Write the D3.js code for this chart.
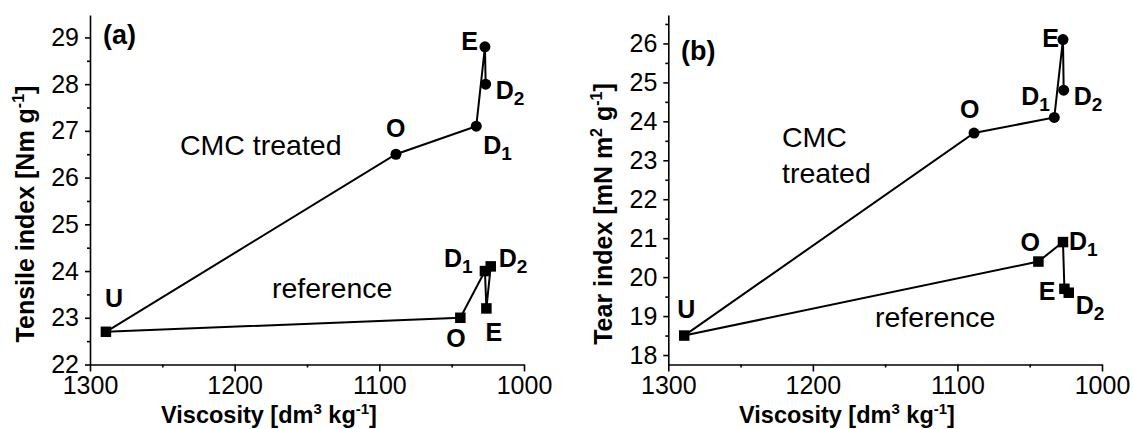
<!DOCTYPE html>
<html><head><meta charset="utf-8">
<script src="https://cdn.jsdelivr.net/npm/d3@7"></script>
<style>
html,body{margin:0;padding:0;background:#fff;}
svg text{font-family:"Liberation Sans",Arial,sans-serif;fill:#000;}
</style></head>
<body>
<svg id="chart" width="1133" height="429"></svg>
<script>
// ---- data ----
const samples = ["U", "O", "D1", "E", "D2"];
const viscosityCMC = [1289, 1088.5, 1033, 1027, 1026.5];
const viscosityRef = [1289, 1044, 1027, 1026, 1023];
const tensileCMC = [22.7, 26.5, 27.1, 28.8, 28.0];
const tensileRef = [22.7, 23.0, 24.0, 23.2, 24.1];
const tearCMC = [18.5, 23.7, 24.1, 26.1, 24.8];
const tearRef = [18.5, 20.4, 20.9, 19.7, 19.6];
const xTicks = [1300, 1200, 1100, 1000];
const xMinor = [1250, 1150, 1050];
const tensileTicks = [22, 23, 24, 25, 26, 27, 28, 29];
const tearTicks = [18, 19, 20, 21, 22, 23, 24, 25, 26];

// ---- layout / styles ----
const svg = d3.select("#chart");
const FONT = 25;

const panels = [
  {
    id: "a", x0: 90, x1: 524, yTop: 15, yBot: 364.5,
    yDomain: [22, 29.48], ticks: tensileTicks, cmc: tensileCMC, ref: tensileRef,
    letter: "(a)", letterPos: [103, 44],
    yTitle: ["Tensile index [Nm g", "-1", "]"], yTitlePos: [34, 214],
    xTitlePos: [269, 423],
    groupLabels: [{lines: ["CMC treated"], pos: [180, 155]}, {lines: ["reference"], pos: [272, 298]}],
    cmcLab: {U: [-1, -25, "start"], O: [-10, -17, "start"], D1: [7, 28, "start"], E: [-7, 3, "end"], D2: [10, 15, "start"]},
    refLab: {O: [-14, 29, "start"], D1: [-41, -4, "start"], E: [-1, 33, "start"], D2: [8, 1, "start"]}
  },
  {
    id: "b", x0: 668.3, x1: 1102, yTop: 15, yBot: 364.5,
    yDomain: [17.757, 26.73], ticks: tearTicks, cmc: tearCMC, ref: tearRef,
    letter: "(b)", letterPos: [681, 60],
    yTitle: ["Tear index [mN m", "2", " g", "-1", "]"], yTitlePos: [612, 214],
    xTitlePos: [847, 423],
    groupLabels: [{lines: ["CMC", "treated"], pos: [782, 147]}, {lines: ["reference"], pos: [875, 327]}],
    cmcLab: {U: [-7, -18, "start"], O: [-14, -15, "start"], D1: [-33, -12, "start"], E: [-4, 7, "end"], D2: [10, 15, "start"]},
    refLab: {O: [-18, -11, "start"], D1: [6, 8, "start"], E: [-9, 11, "end"], D2: [7, 21, "start"]}
  }
];

panels.forEach(p => {
  const g = svg.append("g");
  const x = d3.scaleLinear().domain([1300, 1000]).range([p.x0, p.x1]);
  const y = d3.scaleLinear().domain(p.yDomain).range([p.yBot, p.yTop]);
  const yMinor = d3.range(p.ticks[0] + 0.5, p.yDomain[1], 1);

  // axes
  g.append("g").attr("transform", `translate(0,${p.yBot})`)
    .call(d3.axisBottom(x).tickValues(xTicks).tickSize(7).tickSizeOuter(0).tickPadding(5).tickFormat(d3.format("d")));
  g.append("g").attr("transform", `translate(0,${p.yBot})`)
    .call(d3.axisBottom(x).tickValues(xMinor).tickSize(3).tickSizeOuter(0).tickFormat(""))
    .select(".domain").remove();
  g.append("g").attr("transform", `translate(${p.x0},0)`)
    .call(d3.axisLeft(y).tickValues(p.ticks).tickSize(5).tickSizeOuter(0).tickPadding(6).tickFormat(d3.format("d")));
  g.append("g").attr("transform", `translate(${p.x0},0)`)
    .call(d3.axisLeft(y).tickValues(yMinor).tickSize(3).tickSizeOuter(0).tickFormat(""))
    .select(".domain").remove();
  g.selectAll(".domain").attr("stroke", "#000").attr("stroke-width", 1.6);
  g.selectAll(".tick line").attr("stroke", "#000").attr("stroke-width", 1.6);
  g.selectAll(".tick text").attr("font-size", FONT).attr("font-family", "Liberation Sans, Arial, sans-serif").attr("fill", "#000");

  // lines
  const line = d3.line().x(d => x(d[0])).y(d => y(d[1]));
  const cmcPts = viscosityCMC.map((v, i) => [v, p.cmc[i], samples[i]]);
  const refPts = viscosityRef.map((v, i) => [v, p.ref[i], samples[i]]);
  [cmcPts, refPts].forEach(pts => {
    g.append("path").datum(pts).attr("d", line).attr("fill", "none")
      .attr("stroke", "#000").attr("stroke-width", 2);
  });
  // markers
  g.selectAll(".c").data(cmcPts.slice(1)).enter().append("circle")
    .attr("cx", d => x(d[0])).attr("cy", d => y(d[1])).attr("r", 5.5).attr("fill", "#000");
  const sq = 10.5;
  g.selectAll(".s").data(refPts).enter().append("rect")
    .attr("x", d => x(d[0]) - sq / 2).attr("y", d => y(d[1]) - sq / 2)
    .attr("width", sq).attr("height", sq).attr("fill", "#000");

  // point labels
  function label(pts, cfg) {
    pts.forEach(d => {
      const c = cfg[d[2]];
      if (!c) return;
      const t = g.append("text").attr("x", x(d[0]) + c[0]).attr("y", y(d[1]) + c[1])
        .attr("text-anchor", c[2]).attr("font-weight", "bold").attr("font-size", 25);
      t.append("tspan").text(d[2][0]);
      if (d[2].length > 1) t.append("tspan").attr("dy", 6).attr("font-size", 19).text(d[2].slice(1));
    });
  }
  label(cmcPts, p.cmcLab);
  label(refPts, p.refLab);

  // panel letter
  g.append("text").attr("x", p.letterPos[0]).attr("y", p.letterPos[1])
    .attr("font-weight", "bold").attr("font-size", 27).text(p.letter);

  // group labels
  p.groupLabels.forEach(gl => {
    gl.lines.forEach((ln, i) => {
      g.append("text").attr("x", gl.pos[0]).attr("y", gl.pos[1] + i * 36)
        .attr("font-size", 28.5).text(ln);
    });
  });

  // y title
  const yt = g.append("text").attr("transform", `translate(${p.yTitlePos[0]},${p.yTitlePos[1]}) rotate(-90)`)
    .attr("text-anchor", "middle").attr("font-weight", "bold").attr("font-size", 25);
  p.yTitle.forEach((s, i) => {
    const isSup = (s === "-1" || s === "2");
    const ts = yt.append("tspan").text(s);
    if (isSup) ts.attr("font-size", 16).attr("dy", -10);
    else if (i > 0 && (p.yTitle[i - 1] === "-1" || p.yTitle[i - 1] === "2")) ts.attr("dy", 10);
  });

  // x title
  const xt = g.append("text").attr("x", p.xTitlePos[0]).attr("y", p.xTitlePos[1])
    .attr("text-anchor", "middle").attr("font-weight", "bold").attr("font-size", 23.5);
  xt.append("tspan").text("Viscosity [dm");
  xt.append("tspan").attr("font-size", 15).attr("dy", -9).text("3");
  xt.append("tspan").attr("dy", 9).text(" kg");
  xt.append("tspan").attr("font-size", 15).attr("dy", -9).text("-1");
  xt.append("tspan").attr("dy", 9).text("]");
});
</script>
</body></html>
